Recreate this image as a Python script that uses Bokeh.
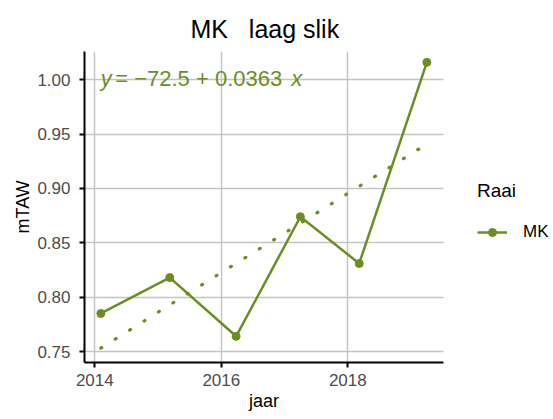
import numpy as np
from bokeh.plotting import figure
from bokeh.models import Legend, LegendItem, Label, FixedTicker, NumeralTickFormatter, Range1d, BoxAnnotation, Title
from bokeh.embed import file_html
from bokeh.resources import INLINE

# data
years = [2014.095, 2015.185, 2016.234, 2017.25, 2018.18, 2019.25]
mtaw = [0.785, 0.818, 0.764, 0.874, 0.831, 1.016]
x_ticks = [2014, 2016, 2018]
y_ticks = [0.75, 0.80, 0.85, 0.90, 0.95, 1.00]
series_name = "MK"
legend_title = "Raai"
chart_title = "MK \u00a0 laag slik"
x_title = "jaar"
y_title = "mTAW"
eq_y = "y"
eq_mid = "= \u221272.5 + 0.0363"
eq_x = "x"

GREEN = "#6B8E23"
FONT = "Liberation Sans"

X0, X1 = 2013.837, 2019.513      # panel extent
X_CANVAS_END = 2021.252          # frame continues under the legend area

p = figure(width=553, height=419, output_backend="svg", toolbar_location=None,
           x_range=Range1d(X0, X_CANVAS_END), y_range=Range1d(0.7399, 1.026),
           min_border_left=84, min_border_right=0, min_border_top=51, min_border_bottom=57,
           title=chart_title)
p.outline_line_color = None
p.background_fill_color = "white"

p.title.align = "left"
p.title.offset = 106
p.title.text_font = FONT
p.title.text_font_size = "25px"
p.title.text_font_style = "normal"
p.title.text_color = "black"
p.title.standoff = 18

for ax in (p.xaxis[0], p.yaxis[0]):
    ax.axis_line_color = "black"
    ax.axis_line_width = 2
    ax.major_tick_line_color = "black"
    ax.major_tick_line_width = 2
    ax.major_tick_out = 5
    ax.major_tick_in = 0
    ax.minor_tick_line_color = None
    ax.major_label_text_font = FONT
    ax.major_label_text_font_size = "17px"
    ax.major_label_text_color = "#4D4D4D"
    ax.axis_label_text_font = FONT
    ax.axis_label_text_font_size = "18px"
    ax.axis_label_text_font_style = "normal"
    ax.axis_label_text_color = "black"

p.xaxis.bounds = (X0, X1)
p.xaxis.ticker = FixedTicker(ticks=x_ticks)
p.yaxis.ticker = FixedTicker(ticks=y_ticks)
p.yaxis.formatter = NumeralTickFormatter(format="0.00")
p.yaxis.axis_label = y_title
p.xaxis.major_label_standoff = 6
p.yaxis.major_label_standoff = 9
p.yaxis.axis_label_standoff = 1

# x axis title, centred under the panel (not under the legend area)
p.add_layout(Title(text=x_title, align="left", offset=164.5, standoff=0,
                   text_font=FONT, text_font_size="18px", text_font_style="normal",
                   text_color="black"), "below")

p.xgrid.grid_line_color = "#C4C4C4"
p.ygrid.grid_line_color = "#C4C4C4"
p.xgrid.grid_line_width = 1.5
p.ygrid.grid_line_width = 1.5

# regression line (linear fit of the series)
slope, intercept = np.polyfit(years, mtaw, 1)
xs = [min(years), max(years)]
ys = [intercept + slope * v for v in xs]
p.line(xs, ys, color=GREEN, line_width=3.2, line_dash="1 16", line_cap="round")

r_line = p.line(years, mtaw, color=GREEN, line_width=2.5)
r_pts = p.scatter(years, mtaw, size=8, color=GREEN)

# equation
for txt, off, style in [(eq_y, 0, "italic"), (eq_mid, 14.4, "normal"), (eq_x, 190.4, "italic")]:
    p.add_layout(Label(x=years[0], y=1.0, x_offset=off, y_offset=1.2, text=txt,
                       text_font=FONT, text_font_size="22px", text_font_style=style,
                       text_color=GREEN, text_baseline="alphabetic"))

# blank area right of the panel (legend area)
p.add_layout(BoxAnnotation(left=X1, fill_color="white", fill_alpha=1.0, line_color=None))

legend = Legend(items=[LegendItem(label=series_name, renderers=[r_line, r_pts])],
                title=legend_title, location=(393, 120),
                padding=0, margin=0, spacing=0,
                border_line_color=None, background_fill_alpha=0,
                title_text_font=FONT, title_text_font_size="19px", title_text_font_style="normal",
                title_text_color="black", title_standoff=20,
                label_text_font=FONT, label_text_font_size="17px", label_text_color="black",
                glyph_width=30, glyph_height=20, label_height=20, label_standoff=16)
p.add_layout(legend)

open("out.html", "w").write(file_html(p, INLINE))
